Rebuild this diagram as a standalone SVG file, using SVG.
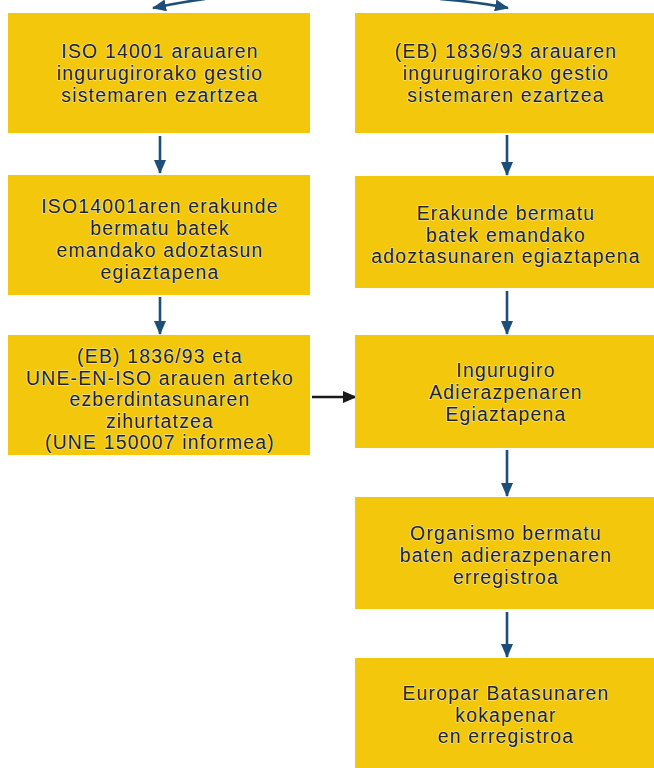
<svg xmlns="http://www.w3.org/2000/svg" width="654" height="768" viewBox="0 0 654 768">
<defs>
<style>
.box{fill:#f2c70c;}
.t{font-family:"Liberation Sans",Arial,sans-serif;font-size:19.4px;letter-spacing:1.2px;fill:#222222;text-anchor:middle;stroke:#fbf0b8;stroke-width:1.1px;paint-order:stroke;}
.c{fill:none;stroke:#1d4e79;stroke-width:2.6;}
.k{fill:none;stroke:#1a1a1a;stroke-width:2.6;}
</style>
<marker id="ab" viewBox="0 0 14 12" refX="13" refY="6" markerWidth="14" markerHeight="12" markerUnits="userSpaceOnUse" orient="auto">
<path d="M0,0 L14,6 L0,12 Z" fill="#1d4e79"/>
</marker>
<marker id="ak" viewBox="0 0 14 12" refX="13" refY="6" markerWidth="14" markerHeight="12" markerUnits="userSpaceOnUse" orient="auto">
<path d="M0,0 L14,6 L0,12 Z" fill="#1a1a1a"/>
</marker>
</defs>
<rect width="654" height="768" fill="#ffffff"/>

<g id="connectors">
<path class="c" d="M205,-1 Q182,2 153,8" marker-end="url(#ab)"/>
<path class="c" d="M440,-1 Q478,2 508,8" marker-end="url(#ab)"/>
<line class="c" x1="160" y1="136" x2="160" y2="173" marker-end="url(#ab)"/>
<line class="c" x1="160" y1="297" x2="160" y2="334" marker-end="url(#ab)"/>
<line class="c" x1="507" y1="135" x2="507" y2="175" marker-end="url(#ab)"/>
<line class="c" x1="507" y1="291" x2="507" y2="334" marker-end="url(#ab)"/>
<line class="c" x1="507" y1="450" x2="507" y2="496" marker-end="url(#ab)"/>
<line class="c" x1="507" y1="612" x2="507" y2="657" marker-end="url(#ab)"/>
<line class="k" x1="312" y1="397" x2="356" y2="397" marker-end="url(#ak)"/>
</g>

<g id="left1">
<rect class="box" x="8" y="13" width="302" height="120"/>
<text class="t" x="160" y="58">ISO 14001 arauaren</text>
<text class="t" x="160" y="80">ingurugirorako gestio</text>
<text class="t" x="160" y="102">sistemaren ezartzea</text>
</g>

<g id="left2">
<rect class="box" x="8" y="175" width="302" height="120"/>
<text class="t" x="160" y="213">ISO14001aren erakunde</text>
<text class="t" x="160" y="235">bermatu batek</text>
<text class="t" x="160" y="257">emandako adoztasun</text>
<text class="t" x="160" y="279">egiaztapena</text>
</g>

<g id="left3">
<rect class="box" x="8" y="335" width="302" height="120"/>
<text class="t" x="160" y="363">(EB) 1836/93 eta</text>
<text class="t" x="160" y="384.5">UNE-EN-ISO  arauen arteko</text>
<text class="t" x="160" y="406">ezberdintasunaren</text>
<text class="t" x="160" y="427.5">zihurtatzea</text>
<text class="t" x="160" y="449">(UNE 150007 informea)</text>
</g>

<g id="right1">
<rect class="box" x="355" y="13" width="300" height="120"/>
<text class="t" x="506" y="58">(EB) 1836/93  arauaren</text>
<text class="t" x="506" y="80">ingurugirorako gestio</text>
<text class="t" x="506" y="102">sistemaren ezartzea</text>
</g>

<g id="right2">
<rect class="box" x="355" y="176" width="300" height="112"/>
<text class="t" x="506" y="220">Erakunde bermatu</text>
<text class="t" x="506" y="241.5">batek emandako</text>
<text class="t" x="506" y="263">adoztasunaren egiaztapena</text>
</g>

<g id="right3">
<rect class="box" x="355" y="335" width="300" height="113"/>
<text class="t" x="506" y="377">Ingurugiro</text>
<text class="t" x="506" y="399">Adierazpenaren</text>
<text class="t" x="506" y="421">Egiaztapena</text>
</g>

<g id="right4">
<rect class="box" x="355" y="497" width="300" height="112"/>
<text class="t" x="506" y="540">Organismo bermatu</text>
<text class="t" x="506" y="562">baten adierazpenaren</text>
<text class="t" x="506" y="584">erregistroa</text>
</g>

<g id="right5">
<rect class="box" x="355" y="658" width="300" height="112"/>
<text class="t" x="506" y="700">Europar Batasunaren</text>
<text class="t" x="506" y="721.5">kokapenar</text>
<text class="t" x="506" y="743">en erregistroa</text>
</g>
</svg>
